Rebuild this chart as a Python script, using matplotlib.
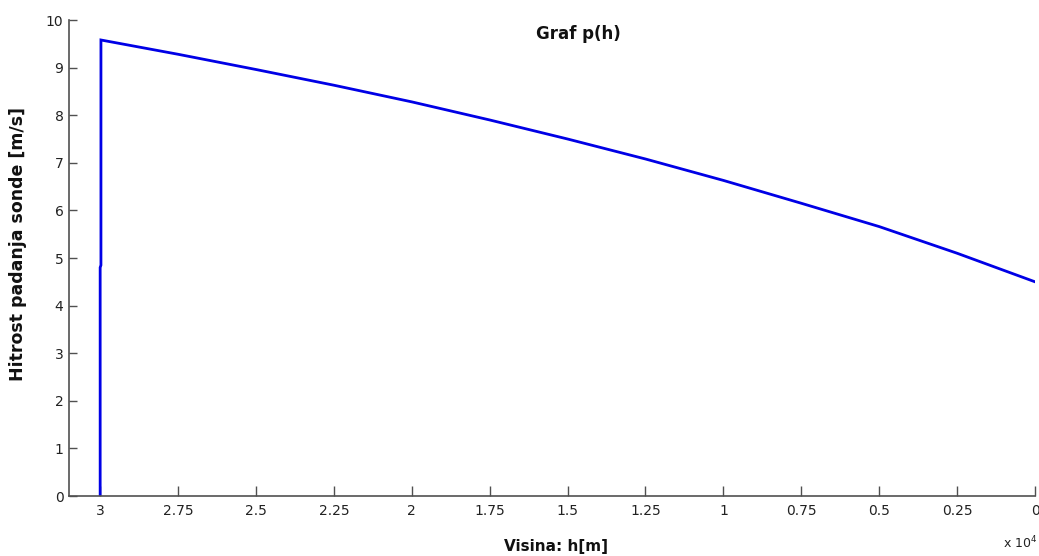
import numpy as np
import matplotlib
matplotlib.use('Agg')
import matplotlib.pyplot as plt

plt.rcParams['font.family'] = ['DejaVu Sans']

# visina [m] in hitrost [m/s], odcitano iz grafa
h_start = [30000, 30000, 29975, 29975]
v_start = [0.0, 4.8, 4.85, 9.58]
h_vals = [27500, 25000, 22500, 20000, 17500, 15000, 12500, 10000, 7500, 5000, 2500, 0]
v_vals = [9.28, 8.96, 8.63, 8.28, 7.90, 7.50, 7.08, 6.63, 6.15, 5.66, 5.10, 4.50]

h = np.array(h_start + h_vals)
v = np.array(v_start + v_vals)

xticks = np.arange(0, 30001, 2500)
xticklabels = ['%g' % (t / 1e4) for t in xticks]
yticks = np.arange(0, 11, 1)

fig = plt.figure(figsize=(10.39, 5.56), dpi=100)
ax = fig.add_axes([69/1039, 60/556, (1035-69)/1039, (496-20)/556])

ax.plot(h, v, color='#0000e6', linewidth=2.0, solid_joinstyle='miter')

ax.set_xlim(31000, 0)
ax.set_ylim(0, 10)
ax.set_xticks(xticks)
ax.set_xticklabels(xticklabels)
ax.set_yticks(yticks)

for s in ['top', 'right']:
    ax.spines[s].set_visible(False)
for s in ['left', 'bottom']:
    ax.spines[s].set_color('#505050')
    ax.spines[s].set_linewidth(1.2)
ax.tick_params(direction='in', width=1, colors='#505050',
               labelcolor='#222222', labelsize=10)
ax.tick_params(axis='y', length=6, pad=4)
ax.tick_params(axis='x', length=7.5, pad=6)

fig.text(18/1039, 1 - 244/556, 'Hitrost padanja sonde [m/s]', fontsize=12.5,
         fontweight='bold', rotation=90, ha='center', va='center', color='#111111')
fig.text(556/1039, 1 - 546/556, 'Visina: h[m]', fontsize=11, fontweight='bold',
         ha='center', va='center', color='#111111')
fig.text(578/1039, 1 - 34/556, 'Graf p(h)', fontsize=12, fontweight='bold',
         ha='center', va='center', color='#111111')
fig.text(1003/1039, 1 - 543/556, r'x 10$^{4}$', fontsize=9, ha='left', va='center',
         color='#222222')

fig.savefig('out.png', dpi=100)
